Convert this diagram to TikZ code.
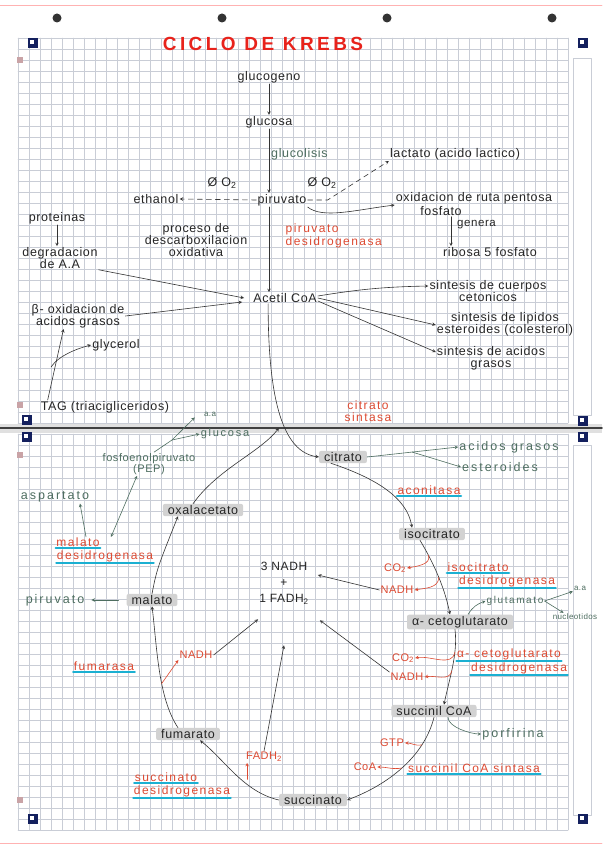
\documentclass[tikz,border=0pt]{standalone}
\usepackage{fontspec}
\setmainfont{Liberation Sans}[LetterSpace=5]
\newfontfamily\enzfont{Liberation Sans}[LetterSpace=12]
\newfontfamily\sidefont{Liberation Sans}[LetterSpace=16]
\newfontfamily\titlefont{Liberation Sans}[LetterSpace=18]
\definecolor{inkred}{HTML}{DD4A32}
\definecolor{titlered}{HTML}{E8221B}
\definecolor{inkgreen}{HTML}{4E6E60}
\definecolor{marker}{HTML}{1BB0D2}
\definecolor{hilite}{HTML}{D2D2D2}
\definecolor{gridgray}{HTML}{C9CDD6}
\definecolor{cornerblue}{HTML}{14205E}
\definecolor{pinkmark}{HTML}{C9A3A6}

\begin{document}
\begin{tikzpicture}[x=1pt, y=1pt, line cap=round, line join=round, >=stealth,
	txt/.style={font=\fontsize{12.5}{12}\selectfont, text=black!85, inner sep=1pt, align=center},
	enz/.style={txt, text=inkred, inner sep=0.5pt, font=\enzfont\fontsize{12}{12}\selectfont},
	cof/.style={txt, text=inkred, font=\fontsize{11}{11}\selectfont},
	side/.style={txt, text=inkgreen, font=\sidefont\fontsize{12.5}{12}\selectfont},
	hl/.style={txt, fill=hilite, rounded corners=2pt, inner xsep=5pt, inner ysep=1.5pt},
	ink/.style={draw=black!80, line width=0.6pt},
	redink/.style={draw=inkred, line width=0.6pt},
	grnink/.style={draw=inkgreen, line width=0.6pt},
	uline/.style={draw=marker, line width=2.2pt},
	gridline/.style={draw=gridgray, line width=0.35pt}]
	
	% Page bounds
	\useasboundingbox (0,0) rectangle (602,-848);
	\fill[white] (0,0) rectangle (602,-848);
	
	% Paper edges and punch holes
	\draw[red!30, line width=0.8pt] (0,-5) -- (602,-5);
	\draw[red!30, line width=0.8pt] (0,-843) -- (602,-843);
	\foreach \hx in {57,222,387,552}
	\fill[black!80] (\hx,-18) circle (4.5);
	
	% Squared paper of the two sheets
	\foreach \gx in {18,29,...,568} {
		\draw[gridline] (\gx,-38) -- (\gx,-423);
		\draw[gridline] (\gx,-434) -- (\gx,-830);
	}
	\foreach \gy in {38,49,...,423}
	\draw[gridline] (18,-\gy) -- (568,-\gy);
	\foreach \gy in {434,445,...,830}
	\draw[gridline] (18,-\gy) -- (568,-\gy);
	\draw[gridline] (573,-58) rectangle (591,-415);
	\draw[gridline] (573,-445) rectangle (591,-815);
	
	% Fold between the sheets
	\fill[black!12] (0,-424) rectangle (602,-433);
	\draw[black!75, line width=1.6pt] (0,-428) -- (602,-428);
	
	% Corner markers
	\foreach \cx/\cy in {33/43, 583/43, 27/420, 583/421, 27/437, 583/437, 33/819, 583/819} {
		\fill[cornerblue] (\cx-5,-\cy+5) rectangle (\cx+5,-\cy-5);
		\fill[white] (\cx-3,-\cy+3) rectangle (\cx+1,-\cy-1);
	}
	\foreach \py in {60,405,455,800}
	\fill[pinkmark] (17,-\py+3) rectangle (23,-\py-3);
	
	% Title
	\node[txt, font=\titlefont\bfseries\fontsize{19}{21}\selectfont, text=titlered] (title) at (263,-44) {CICLO DE KREBS};
	
	% Upper sheet: from glycogen to acetyl CoA
	\node[txt] (glucogeno) at (269,-77) {glucogeno};
	\node[txt] (glucosa) at (269,-122) {glucosa};
	\node[txt, text=inkgreen, anchor=west] (glucolisis) at (270,-154) {glucolisis};
	\node[txt] (piruvato) at (282,-200) {piruvato};
	\node[txt] (ethanol) at (156,-199) {ethanol};
	\node[txt] (noO2a) at (222,-183) {Ø O\textsubscript{2}};
	\node[txt] (noO2b) at (322,-183) {Ø O\textsubscript{2}};
	\node[txt] (lactato) at (455,-154) {lactato (acido lactico)};
	\node[txt] (pentosa) at (474,-198) {oxidacion de ruta pentosa};
	\node[txt] (fosfatoP) at (441,-211) {fosfato};
	\node[txt, anchor=west, font=\fontsize{11.5}{12}\selectfont] (genera) at (456,-225) {genera};
	\node[txt] (ribosa) at (490,-252) {ribosa 5 fosfato};
	\node[enz, anchor=west, align=left, font=\enzfont\fontsize{12}{12.5}\selectfont] (pdh) at (285,-236) {piruvato\\desidrogenasa};
	\node[txt] (proceso) at (196,-240) {proceso de\\descarboxilacion\\oxidativa};
	\node[txt] (proteinas) at (57,-218) {proteinas};
	\node[txt] (degrad) at (60,-258) {degradacion\\de A.A};
	\node[txt] (betaox) at (78,-316) {β- oxidacion de\\acidos grasos};
	\node[txt] (glycerol) at (116,-345) {glycerol};
	\node[txt] (tag) at (105,-407) {TAG (triacigliceridos)};
	\node[txt] (acetil) at (285,-298) {Acetil CoA};
	\node[txt] (cuerpos) at (488,-291) {sintesis de cuerpos\\cetonicos};
	\node[txt] (lipidos) at (505,-324) {sintesis de lipidos\\esteroides (colesterol)};
	\node[txt] (acidos) at (491,-358) {sintesis de acidos\\grasos};
	\node[enz, font=\enzfont\fontsize{12}{12.5}\selectfont] (cs) at (368,-411) {citrato\\sintasa};
	
	% Glycolysis axis and its side routes
	\draw[ink, ->] (glucogeno) -- (glucosa);
	\draw[ink, ->] (glucosa) -- (glucosa |- piruvato.north);
	\draw[ink, ->] (glucosa |- piruvato.south) -- (glucosa |- acetil.north);
	\draw[ink, dash pattern=on 5pt off 4pt, ->] (piruvato.west) -- (ethanol.east);
	\draw[ink, dash pattern=on 5pt off 4pt, ->] (piruvato.east) -- ++(20,0) -- (lactato.south west);
	\draw[ink, ->] (piruvato.south east) .. controls +(15,-12) and +(-40,-5) .. (pentosa.south west);
	\coordinate (gen) at ([xshift=10pt]fosfatoP.south);
	\draw[ink, ->] (gen) -- (gen |- ribosa.north);
	
	% Routes into acetyl CoA
	\draw[ink, ->] (proteinas.south) -- (proteinas.south |- degrad.north);
	\draw[ink, ->] (degrad.south east) -- ([xshift=-8pt]acetil.west);
	\draw[ink, ->] (betaox.east) -- ([xshift=-10pt,yshift=-4pt]acetil.west);
	\coordinate (tagfork) at (51,-367);
	\draw[ink, ->] ([xshift=8pt]tag.north west) -- ([xshift=33pt]betaox.south west);
	\draw[ink, ->] (tagfork) .. controls +(8,12) and +(-12,-3) .. (glycerol.west);
	
	% Acetyl CoA branches
	\draw[ink, ->] ([yshift=2pt]acetil.east) to[bend left=4] ([yshift=5pt]cuerpos.west);
	\draw[ink, ->] (acetil.east) -- ([yshift=-1pt]lipidos.west);
	\draw[ink, ->] ([yshift=-3pt]acetil.east) -- ([yshift=6pt]acidos.west);
	
	% Lower sheet: the cycle
	\node[hl] (citrato) at (343,-457) {citrato};
	\node[hl] (isocitrato) at (432,-534) {isocitrato};
	\node[hl] (akg) at (460,-622) {α- cetoglutarato};
	\node[hl] (succoa) at (434,-711) {succinil CoA};
	\node[hl] (succinato) at (313,-800) {succinato};
	\node[hl] (fumarato) at (188,-734) {fumarato};
	\node[hl] (malato) at (152,-600) {malato};
	\node[hl] (oxala) at (203,-510) {oxalacetato};
	\node[txt, font=\fontsize{12}{16}\selectfont] (total) at (284,-583) {3 NADH\\+\\1 FADH\textsubscript{2}};
	
	% Enzymes
	\node[enz] (aco) at (429,-490) {aconitasa};
	\node[enz] (icdA) at (478,-567) {isocitrato};
	\node[enz] (icdB) at (507,-581) {desidrogenasa};
	\node[enz] (akgdA) at (509,-654) {α- cetoglutarato};
	\node[enz] (akgdB) at (519,-668) {desidrogenasa};
	\node[enz] (scs) at (474,-768) {succinil CoA sintasa};
	\node[enz] (sdhA) at (166,-777) {succinato};
	\node[enz] (sdhB) at (182,-791) {desidrogenasa};
	\node[enz] (fumarasa) at (104,-666) {fumarasa};
	\node[enz] (mdhA) at (78,-542) {malato};
	\node[enz] (mdhB) at (105,-556) {desidrogenasa};
	\foreach \u in {aco, icdA, icdB, akgdA, akgdB, scs, sdhA, sdhB, fumarasa, mdhA, mdhB}
	\draw[uline] ([yshift=-0.5pt]\u.south west) -- ([yshift=-0.5pt]\u.south east);
	
	% Cofactors
	\node[cof] (co2a) at (395,-568) {CO\textsubscript{2}};
	\node[cof] (nadhA) at (397,-590) {NADH};
	\node[cof] (co2b) at (403,-658) {CO\textsubscript{2}};
	\node[cof] (nadhB) at (407,-677) {NADH};
	\node[cof] (gtp) at (392,-743) {GTP};
	\node[cof] (coa) at (365,-767) {CoA};
	\node[cof] (fadh2) at (264,-757) {FADH\textsubscript{2}};
	\node[cof] (nadhC) at (196,-655) {NADH};
	
	% Side products
	\node[side] (agrasos) at (509,-447) {acidos grasos};
	\node[side] (esteroides) at (500,-467) {esteroides};
	\node[side, font=\sidefont\fontsize{10}{11}\selectfont] (glutamato) at (515,-601) {glutamato};
	\node[side, font=\fontsize{8}{9}\selectfont] (aa1) at (580,-588) {a.a};
	\node[side, font=\fontsize{8}{9}\selectfont] (nucleot) at (575,-617) {nucleotidos};
	\node[side] (porfirina) at (513,-734) {porfirina};
	\node[side] (piruvatoB) at (55,-600) {piruvato};
	\node[side] (aspartato) at (55,-497) {aspartato};
	\node[side, font=\fontsize{11}{11}\selectfont] (pep) at (149,-464) {fosfoenolpiruvato\\(PEP)};
	\node[side, font=\sidefont\fontsize{11}{12}\selectfont] (glucosaB) at (225,-434) {glucosa};
	\node[side, font=\fontsize{8}{9}\selectfont] (aa2) at (210,-414) {a.a};
	
	% Entry into citrate
	\coordinate (merge) at (279,-428);
	\draw[ink, ->] ([xshift=16pt]acetil.south west) .. controls +(0,-100) and +(-35,5) .. (citrato.west);
	\draw[ink, ->] ([xshift=-10pt]oxala.north) .. controls +(25,35) and +(-20,-25) .. (merge);
	\draw[grnink, ->] (citrato.east) -- (agrasos.west);
	\coordinate (cfork) at (412,-452);
	\draw[grnink, ->] (cfork) -- (esteroides.west);
	
	% Steps of the cycle
	\draw[ink, ->] ([xshift=-12pt]citrato.south) .. controls +(45,-15) and +(-5,30) .. ([xshift=-20pt]isocitrato.north);
	\draw[ink, ->] ([xshift=-12pt]isocitrato.south) .. controls +(15,-25) and +(-5,25) .. ([xshift=-10pt]akg.north)
	coordinate[pos=0.2] (i1) coordinate[pos=0.5] (i2);
	\draw[redink, ->] (i1) to[out=-70,in=10] (co2a.east);
	\draw[redink, ->] (i2) to[out=-90,in=10] (nadhA.east);
	\draw[ink, ->] ([xshift=-5pt]akg.south) .. controls +(3,-25) and +(5,25) .. ([xshift=10pt]succoa.north)
	coordinate[pos=0.3] (k1) coordinate[pos=0.55] (k2);
	\draw[redink, ->] (k1) to[out=-100,in=10] (co2b.east);
	\draw[redink, ->] (k2) to[out=-100,in=10] (nadhB.east);
	\draw[ink, ->] (succoa.south) .. controls +(-10,-40) and +(40,15) .. (succinato.east)
	coordinate[pos=0.25] (s1) coordinate[pos=0.5] (s2);
	\draw[redink, ->] (s1) to[out=190,in=0] (gtp.east);
	\draw[redink, ->] (s2) to[out=190,in=0] (coa.east);
	\draw[ink, ->] (succinato.west) .. controls +(-35,8) and +(25,-20) .. ([xshift=12pt]fumarato.south)
	coordinate[pos=0.35] (f1);
	\draw[redink, ->] ([yshift=5pt]f1) -- (f1 |- fadh2.south);
	\draw[ink, ->] ([xshift=-10pt]fumarato.north) .. controls +(-20,30) and +(5,-40) .. (malato.south)
	coordinate[pos=0.4] (m1);
	\draw[redink, ->] (m1) -- (nadhC.south west);
	\draw[ink, ->] (malato.north) .. controls +(5,25) .. ([xshift=-25pt]oxala.south);
	
	% Reduced cofactors to the total
	\draw[ink, ->] (nadhA.west) -- ([xshift=8pt,yshift=8pt]total.east);
	\draw[ink, ->] (nadhB.north west) -- ([xshift=10pt,yshift=-15pt]total.south east);
	\draw[ink, ->] (nadhC.east) -- ([yshift=-14pt]total.south west);
	\draw[ink, ->] (fadh2.north) -- ([yshift=-40pt]total.south);
	
	% Side routes of the cycle
	\draw[grnink, ->] ([xshift=8pt]akg.north) .. controls +(5,8) and +(-8,-3) .. (glutamato.west);
	\draw[grnink, ->] (glutamato.east) -- (aa1.south west);
	\draw[grnink, ->] (glutamato.east) -- ([xshift=12pt]nucleot.north west);
	\draw[grnink, ->] ([xshift=14pt]succoa.south) .. controls +(0,-10) and +(-10,0) .. (porfirina.west);
	\draw[grnink, ->, shorten <=8pt, shorten >=6pt] (malato.west) -- (piruvatoB.east);
	\draw[grnink, ->] ([xshift=8pt]mdhA.north) -- ([xshift=25pt]aspartato.south);
	\draw[grnink, <->] ([xshift=33pt]mdhA.north) -- ([xshift=-12pt]pep.south);
	\coordinate (pfork) at (172,-440);
	\draw[grnink] ([xshift=5pt]pep.north) -- (pfork);
	\draw[grnink, ->] (pfork) -- (glucosaB.west);
	\draw[grnink, ->] (pfork) -- ([xshift=-8pt]aa2.south west);
\end{tikzpicture}
\end{document}
